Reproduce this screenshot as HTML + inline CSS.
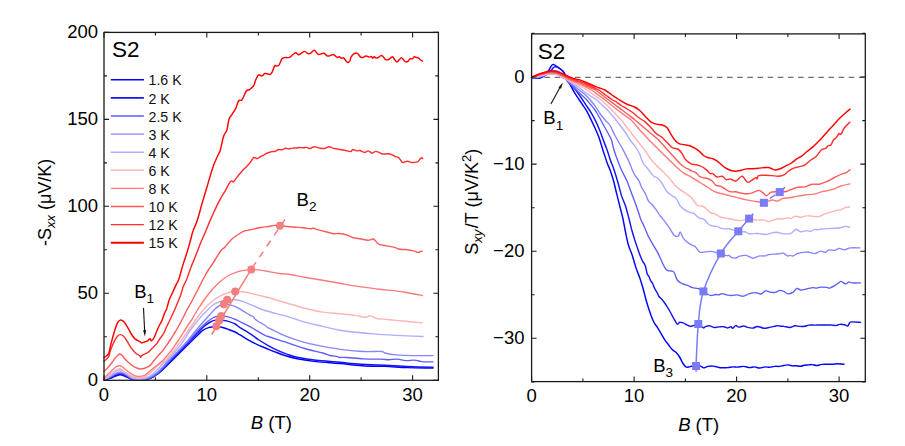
<!DOCTYPE html>
<html><head><meta charset="utf-8"><style>
html,body{margin:0;padding:0;background:#fff;width:905px;height:446px;overflow:hidden;position:relative}
</style></head><body>
<svg width="905" height="446" viewBox="0 0 905 446" style="position:absolute;left:0;top:0">
<rect width="905" height="446" fill="#fff"/>
<path d="M104.0 379.8C105.0 379.6 108.2 378.9 110.1 378.3C111.9 377.7 113.4 376.9 115.1 376.3C116.8 375.7 118.5 374.8 120.2 374.8C121.9 374.8 123.5 375.6 125.2 376.3C126.9 377.0 128.6 378.2 130.3 378.8C132.0 379.4 133.3 379.6 135.3 379.8C137.3 380.0 140.2 379.9 142.4 379.8C144.6 379.7 146.6 379.5 148.4 379.0C150.2 378.5 151.5 377.8 153.0 377.0C154.5 376.2 155.9 375.2 157.5 374.0C159.1 372.8 160.7 371.5 162.4 370.0C164.1 368.5 165.8 366.7 167.5 365.0C169.2 363.3 170.9 361.7 172.6 360.0C174.3 358.3 175.9 356.7 177.6 355.0C179.3 353.3 180.9 351.7 182.6 350.0C184.3 348.3 185.9 346.7 187.6 345.0C189.3 343.3 191.0 341.7 192.7 340.0C194.4 338.3 196.1 336.6 197.8 335.0C199.5 333.4 201.3 331.4 203.1 330.2C204.9 329.0 206.7 328.2 208.5 327.6C210.3 327.0 212.6 326.8 213.9 326.6C215.2 326.4 215.0 326.3 216.3 326.4C217.6 326.5 220.8 327.1 221.7 327.3C222.6 327.5 220.6 327.0 221.7 327.3C222.8 327.6 226.2 328.6 228.4 329.4C230.7 330.2 233.3 331.1 235.2 332.0C237.1 332.9 237.6 333.4 240.0 334.8C242.4 336.2 246.3 338.8 249.5 340.6C252.7 342.4 255.8 343.9 259.0 345.4C262.2 346.8 265.4 348.0 268.6 349.3C271.8 350.6 275.2 351.9 278.1 353.0C281.0 354.1 282.5 354.9 285.7 355.8C288.9 356.8 292.0 357.7 297.1 358.7C302.2 359.7 309.1 360.8 316.2 361.6C323.3 362.4 332.3 362.8 340.0 363.5C347.7 364.2 354.9 365.2 362.4 365.7C369.9 366.2 377.3 366.1 384.8 366.4C392.3 366.7 399.3 367.3 407.3 367.6C415.3 367.9 428.7 367.9 433.0 368.0" fill="none" stroke="#0000ff" stroke-width="1.45" stroke-linejoin="round" stroke-linecap="round"/>
<path d="M104.0 379.8C105.0 379.5 108.2 378.5 110.0 377.8C111.8 377.1 113.3 376.2 115.0 375.5C116.7 374.8 118.5 373.8 120.2 373.8C121.9 373.8 123.5 374.8 125.2 375.5C126.9 376.2 128.6 377.6 130.3 378.3C132.0 379.0 133.3 379.5 135.3 379.7C137.3 379.9 140.3 379.8 142.4 379.7C144.5 379.6 146.2 379.3 148.0 378.8C149.8 378.3 151.3 377.6 153.0 376.8C154.7 376.0 156.2 375.2 158.0 373.8C159.8 372.4 161.5 370.6 163.5 368.5C165.5 366.4 168.0 363.6 170.0 361.5C172.0 359.4 173.7 357.7 175.5 355.8C177.3 353.9 179.2 351.8 181.0 350.0C182.8 348.2 184.3 346.6 186.0 344.8C187.7 343.1 189.4 341.1 191.0 339.5C192.6 337.9 194.0 336.5 195.5 335.0C197.0 333.5 198.3 332.0 199.8 330.5C201.3 329.0 202.9 327.3 204.5 326.0C206.1 324.7 207.9 323.4 209.5 322.5C211.1 321.6 212.6 320.8 214.2 320.4C215.8 320.0 217.4 320.0 219.0 320.0C220.6 320.0 222.4 320.3 224.0 320.5C225.6 320.7 226.5 320.8 228.4 321.4C230.3 322.0 233.3 323.0 235.2 324.0C237.1 325.0 237.6 326.0 240.0 327.6C242.4 329.2 246.3 331.3 249.5 333.4C252.7 335.5 255.8 337.9 259.0 340.0C262.2 342.1 265.4 344.0 268.6 345.8C271.8 347.6 274.9 349.2 278.1 350.6C281.3 352.0 284.4 353.3 287.6 354.4C290.8 355.5 292.3 356.2 297.1 357.2C301.9 358.2 309.1 359.5 316.2 360.3C323.3 361.1 333.6 361.6 340.0 362.2C346.4 362.8 348.3 363.3 354.9 363.8C361.5 364.3 371.1 364.6 379.8 365.0C388.5 365.4 398.4 366.1 407.3 366.5C416.2 366.9 428.7 367.2 433.0 367.3" fill="none" stroke="#1414f0" stroke-width="1.45" stroke-linejoin="round" stroke-linecap="round"/>
<path d="M104.0 379.8C105.0 379.4 108.2 378.2 110.0 377.3C111.8 376.4 113.3 375.2 115.0 374.5C116.7 373.8 118.5 372.8 120.2 372.8C121.9 372.9 123.5 374.0 125.2 374.8C126.9 375.6 128.6 377.0 130.3 377.8C132.0 378.6 133.3 379.2 135.3 379.5C137.3 379.8 140.3 379.7 142.4 379.5C144.5 379.3 146.2 379.0 148.0 378.5C149.8 378.0 151.3 377.2 153.0 376.3C154.7 375.4 156.2 374.5 158.0 373.0C159.8 371.5 161.6 369.5 163.5 367.5C165.4 365.5 167.7 363.0 169.5 361.0C171.3 359.0 172.8 357.5 174.5 355.7C176.2 353.9 178.2 351.8 180.0 350.0C181.8 348.2 183.3 346.6 185.0 344.8C186.7 343.1 188.5 341.1 190.0 339.5C191.5 337.9 192.7 336.5 194.0 335.0C195.3 333.5 196.6 332.0 198.0 330.5C199.4 329.0 200.9 327.5 202.5 326.0C204.1 324.5 205.8 322.8 207.5 321.5C209.2 320.2 211.0 318.9 212.6 318.0C214.2 317.1 215.6 316.7 217.0 316.3C218.4 315.9 219.3 315.8 221.0 315.9C222.7 315.9 224.7 316.0 227.1 316.6C229.5 317.2 232.7 318.3 235.2 319.3C237.7 320.3 239.4 321.4 241.9 322.6C244.4 323.8 247.3 325.2 250.0 326.7C252.7 328.2 255.5 329.9 258.0 331.4C260.5 332.8 263.3 334.5 265.0 335.4C266.7 336.2 264.6 335.3 268.2 336.5C271.8 337.7 280.3 340.4 286.4 342.4C292.4 344.4 298.4 346.7 304.5 348.5C310.6 350.3 318.4 351.8 322.7 353.0C326.9 354.2 327.7 354.9 330.0 355.5C332.3 356.1 335.2 356.0 336.7 356.3C338.2 356.6 337.5 357.2 339.2 357.4C340.9 357.6 342.7 357.2 346.8 357.5C350.9 357.8 358.0 358.6 363.6 358.9C369.2 359.2 376.3 359.1 380.5 359.2C384.7 359.3 386.1 359.7 388.9 359.7C391.7 359.7 394.5 359.0 397.3 359.2C400.1 359.4 402.9 360.4 405.7 360.6C408.5 360.8 411.6 360.1 414.1 360.2C416.6 360.3 419.1 361.1 420.8 361.4C422.5 361.7 422.2 361.8 424.2 361.9C426.2 362.0 431.4 361.9 432.9 361.9" fill="none" stroke="#5c5cff" stroke-width="1.35" stroke-linejoin="round" stroke-linecap="round"/>
<path d="M104.0 379.7C105.0 379.2 108.2 378.0 110.0 377.0C111.8 376.0 113.3 374.7 115.0 373.8C116.7 372.9 118.5 371.8 120.2 371.8C121.9 371.8 123.5 373.1 125.2 374.0C126.9 374.9 128.6 376.4 130.3 377.3C132.0 378.2 133.3 379.0 135.3 379.3C137.3 379.6 140.3 379.5 142.4 379.3C144.5 379.1 146.2 378.6 148.0 378.0C149.8 377.4 151.3 376.5 153.0 375.5C154.7 374.5 156.2 373.4 158.0 371.8C159.8 370.2 161.7 368.0 163.5 366.0C165.3 364.0 166.9 361.8 168.7 360.0C170.4 358.2 172.3 356.7 174.0 355.0C175.7 353.3 177.4 351.7 179.0 350.0C180.6 348.3 182.2 346.7 183.8 345.0C185.4 343.3 186.9 341.7 188.3 340.0C189.7 338.3 191.0 336.7 192.3 335.0C193.6 333.3 194.9 331.7 196.3 330.0C197.7 328.3 199.1 326.7 200.5 325.0C201.9 323.3 203.4 321.8 205.0 320.0C206.6 318.2 208.3 316.3 210.0 314.5C211.7 312.7 213.5 310.4 215.0 309.0C216.5 307.6 217.6 306.6 219.0 305.8C220.4 305.0 221.7 304.3 223.7 304.2C225.7 304.1 228.8 304.6 231.1 305.2C233.4 305.8 235.6 306.7 237.8 307.8C240.1 308.9 242.6 310.7 244.6 311.9C246.6 313.1 248.6 314.4 250.0 315.2C251.4 316.0 252.4 315.9 253.3 316.6C254.2 317.3 254.5 318.5 255.3 319.3C256.1 320.1 256.4 320.3 258.0 321.3C259.6 322.3 263.3 324.2 265.0 325.3C266.7 326.4 264.6 326.0 268.2 327.8C271.8 329.6 280.3 334.0 286.4 336.4C292.4 338.8 298.4 340.7 304.5 342.4C310.6 344.1 316.8 345.2 322.7 346.4C328.6 347.5 333.4 348.4 340.0 349.3C346.6 350.2 355.5 351.1 362.4 351.5C369.3 351.9 377.8 351.2 381.5 351.5C385.2 351.8 382.4 352.4 384.8 353.0C387.2 353.6 391.3 354.5 396.0 354.9C400.7 355.3 406.7 355.5 412.9 355.6C419.1 355.7 429.6 355.6 433.0 355.6" fill="none" stroke="#8585ff" stroke-width="1.35" stroke-linejoin="round" stroke-linecap="round"/>
<path d="M104.0 379.3C104.7 379.0 106.7 378.3 108.0 377.5C109.3 376.7 110.7 375.6 112.0 374.5C113.3 373.4 114.6 372.0 116.0 371.2C117.4 370.4 118.9 369.6 120.2 369.7C121.5 369.8 122.9 370.8 124.0 371.5C125.1 372.2 126.0 373.1 127.0 374.0C128.1 374.9 129.1 375.9 130.3 376.6C131.5 377.4 132.7 378.1 134.0 378.5C135.3 378.9 136.8 379.1 138.3 379.2C139.8 379.2 141.4 379.2 143.0 378.8C144.6 378.4 146.5 377.7 148.0 377.0C149.5 376.3 150.8 375.3 152.0 374.5C153.2 373.7 154.0 372.9 155.0 372.0C156.0 371.1 156.8 370.2 158.0 369.0C159.2 367.8 160.5 366.3 162.0 364.8C163.5 363.3 165.4 361.6 167.1 360.0C168.8 358.4 170.4 356.7 172.0 355.0C173.6 353.3 175.1 351.7 176.5 350.0C177.9 348.3 179.2 346.7 180.5 345.0C181.8 343.3 183.0 341.7 184.1 340.0C185.2 338.3 186.1 336.7 187.2 335.0C188.2 333.3 189.2 331.7 190.4 330.0C191.6 328.3 192.9 326.7 194.2 325.0C195.5 323.3 196.8 321.7 198.2 320.0C199.6 318.3 200.9 316.7 202.5 315.0C204.1 313.3 205.8 311.7 207.5 310.0C209.2 308.3 211.2 306.3 213.0 305.0C214.8 303.7 216.6 302.9 218.0 302.3C219.4 301.7 220.2 301.5 221.7 301.1C223.2 300.7 224.8 300.0 227.1 299.8C229.3 299.6 232.7 299.6 235.2 299.8C237.7 300.0 239.7 300.4 241.9 301.1C244.1 301.8 246.4 302.9 248.6 303.8C250.8 304.7 252.6 305.4 255.3 306.5C258.0 307.6 259.8 308.9 265.0 310.5C270.2 312.1 279.8 314.2 286.4 316.1C293.0 318.0 298.4 320.4 304.5 322.1C310.6 323.8 316.8 325.0 322.7 326.4C328.6 327.8 334.4 329.2 340.0 330.2C345.6 331.2 350.4 331.7 356.0 332.3C361.6 332.9 366.9 333.4 373.6 333.9C380.3 334.4 387.8 335.0 396.0 335.4C404.2 335.8 418.5 336.3 423.0 336.5" fill="none" stroke="#aeaeff" stroke-width="1.40" stroke-linejoin="round" stroke-linecap="round"/>
<path d="M104.0 378.8C104.5 378.5 106.0 377.6 107.0 376.8C108.0 376.1 108.8 375.4 110.1 374.3C111.4 373.2 113.4 371.4 115.1 370.5C116.8 369.6 118.5 368.4 120.2 368.7C121.9 369.0 123.5 371.2 125.2 372.3C126.9 373.4 128.6 374.5 130.3 375.3C132.0 376.1 133.6 376.9 135.3 377.3C137.0 377.7 138.6 377.9 140.3 377.8C142.0 377.7 143.9 377.2 145.4 376.5C146.9 375.8 148.2 374.9 149.5 373.8C150.8 372.7 151.6 371.5 153.2 370.0C154.8 368.5 157.0 366.7 159.0 365.0C161.0 363.3 163.3 361.7 165.1 360.0C166.9 358.3 168.3 356.7 169.8 355.0C171.3 353.3 172.9 351.7 174.3 350.0C175.7 348.3 176.8 346.7 178.0 345.0C179.2 343.3 180.5 341.7 181.7 340.0C182.9 338.3 184.0 336.7 185.1 335.0C186.2 333.3 187.3 331.7 188.5 330.0C189.7 328.3 190.8 326.7 192.0 325.0C193.2 323.3 194.2 321.7 195.4 320.0C196.6 318.3 197.9 316.7 199.2 315.0C200.5 313.3 201.7 311.7 203.2 310.0C204.7 308.3 206.2 306.7 208.0 305.0C209.8 303.3 212.0 301.3 213.7 300.0C215.4 298.7 216.4 298.2 218.0 297.3C219.6 296.4 221.3 295.4 223.1 294.6C224.9 293.8 227.0 293.0 229.0 292.5C231.0 292.0 233.0 291.6 235.2 291.5C237.3 291.4 239.4 291.4 241.9 291.7C244.4 292.0 247.3 292.5 250.0 293.1C252.7 293.7 255.0 294.4 258.0 295.1C261.0 295.8 263.5 296.2 268.2 297.5C272.9 298.8 280.3 301.2 286.4 303.0C292.4 304.8 298.4 306.7 304.5 308.2C310.6 309.7 316.8 311.2 322.7 312.1C328.6 313.0 334.6 313.2 340.0 313.8C345.4 314.4 351.2 314.9 354.9 315.4C358.6 315.9 360.1 316.4 362.0 316.7C363.9 317.0 364.9 317.4 366.0 317.3C367.1 317.2 367.8 316.6 368.5 316.4C369.2 316.2 369.8 315.9 370.5 315.9C371.2 315.9 372.0 316.2 372.8 316.6C373.6 317.0 374.3 317.8 375.5 318.2C376.7 318.6 376.5 318.5 380.0 318.9C383.5 319.3 389.4 319.7 396.4 320.4C403.4 321.1 417.9 322.5 422.2 322.9" fill="none" stroke="#ffb4b4" stroke-width="1.40" stroke-linejoin="round" stroke-linecap="round"/>
<path d="M104.0 377.8C104.5 377.4 106.0 376.1 107.0 375.2C108.0 374.3 108.8 373.6 110.1 372.3C111.4 371.0 113.8 368.6 115.1 367.5C116.4 366.4 117.2 366.3 118.0 366.0C118.8 365.7 119.5 365.5 120.2 365.7C121.0 365.9 121.7 366.4 122.5 367.0C123.3 367.6 123.9 368.2 125.2 369.2C126.5 370.2 128.6 372.1 130.3 373.2C132.0 374.3 133.6 375.3 135.3 375.8C137.0 376.3 138.6 376.6 140.3 376.4C142.0 376.2 143.7 375.8 145.4 374.8C147.1 373.8 148.6 372.1 150.5 370.5C152.4 368.9 154.9 367.1 157.0 365.3C159.1 363.6 161.4 361.7 163.2 360.0C164.9 358.3 166.1 356.7 167.5 355.0C168.9 353.3 170.5 351.7 171.8 350.0C173.1 348.3 174.1 346.7 175.2 345.0C176.3 343.3 177.5 341.7 178.6 340.0C179.7 338.3 180.8 336.7 181.8 335.0C182.9 333.3 183.8 331.7 184.9 330.0C186.0 328.3 187.1 326.7 188.2 325.0C189.3 323.3 190.5 321.7 191.6 320.0C192.7 318.3 193.5 316.7 194.5 315.0C195.5 313.3 196.4 311.7 197.4 310.0C198.4 308.3 199.6 306.7 200.7 305.0C201.8 303.3 202.9 301.7 204.1 300.0C205.3 298.3 206.5 296.7 207.8 295.0C209.1 293.3 210.4 291.7 211.8 290.0C213.2 288.3 214.8 286.7 216.5 285.0C218.2 283.3 220.1 281.6 222.1 280.0C224.1 278.4 226.2 276.8 228.5 275.5C230.8 274.2 233.7 273.1 236.0 272.3C238.3 271.5 239.8 271.1 242.4 270.6C245.0 270.2 248.2 269.7 251.3 269.6C254.4 269.5 257.6 269.7 260.7 270.1C263.8 270.5 267.0 271.3 270.1 271.9C273.2 272.5 276.4 273.1 279.5 273.5C282.6 273.9 284.7 273.7 288.9 274.3C293.1 274.9 298.9 276.3 304.5 277.3C310.1 278.3 316.8 279.3 322.7 280.3C328.6 281.3 334.6 282.4 340.0 283.3C345.4 284.2 348.3 284.9 354.9 285.9C361.5 286.9 371.5 288.1 379.8 289.2C388.1 290.2 397.6 291.1 404.7 292.2C411.8 293.2 419.3 294.9 422.2 295.5" fill="none" stroke="#ff7a7a" stroke-width="1.40" stroke-linejoin="round" stroke-linecap="round"/>
<path d="M104.0 371.3C104.4 370.9 105.7 369.9 106.5 369.0C107.3 368.1 108.2 367.3 109.1 366.2C110.0 365.1 111.0 363.8 112.0 362.5C113.0 361.2 114.2 359.4 115.1 358.2C116.0 357.0 116.7 356.2 117.5 355.5C118.3 354.8 119.2 353.9 120.0 354.0C120.8 354.1 121.6 354.9 122.5 355.8C123.4 356.7 123.9 357.8 125.2 359.2C126.5 360.6 128.6 362.6 130.3 364.0C132.0 365.4 133.6 366.6 135.3 367.4C137.0 368.2 138.6 368.9 140.3 369.0C142.0 369.1 143.7 368.6 145.4 368.0C147.1 367.4 149.0 366.6 150.4 365.3C151.8 364.0 152.8 362.0 154.1 360.3C155.4 358.6 157.0 357.0 158.5 355.3C160.0 353.6 161.9 351.7 163.3 350.0C164.7 348.3 165.7 346.7 166.8 345.0C168.0 343.3 169.1 341.7 170.2 340.0C171.3 338.3 172.3 336.7 173.3 335.0C174.3 333.3 175.4 331.7 176.4 330.0C177.4 328.3 178.3 326.7 179.2 325.0C180.1 323.3 181.0 321.7 181.9 320.0C182.8 318.3 183.6 316.7 184.4 315.0C185.2 313.3 186.0 311.7 186.9 310.0C187.8 308.3 188.8 306.7 189.7 305.0C190.6 303.3 191.6 301.7 192.5 300.0C193.4 298.3 194.2 296.7 195.1 295.0C196.0 293.3 196.8 291.7 197.7 290.0C198.5 288.3 199.4 286.7 200.2 285.0C201.0 283.3 201.8 281.7 202.7 280.0C203.6 278.3 204.6 276.7 205.5 275.0C206.4 273.3 207.2 271.7 208.3 270.0C209.4 268.3 210.6 266.8 211.8 265.0C213.0 263.2 213.8 261.8 215.3 259.5C216.8 257.2 219.1 253.1 220.7 251.0C222.3 248.9 223.2 248.8 225.0 246.9C226.8 245.0 229.3 241.5 231.4 239.5C233.5 237.5 235.4 236.4 237.5 235.0C239.6 233.6 241.8 232.1 243.9 231.2C246.0 230.3 248.0 230.2 250.0 229.8C252.0 229.4 254.0 228.9 256.0 228.5C258.0 228.1 259.9 227.5 262.0 227.2C264.1 226.9 266.4 226.8 268.5 226.5C270.6 226.2 272.8 225.5 274.8 225.4C276.8 225.3 277.9 225.6 280.4 225.8C282.8 226.0 286.4 226.5 289.5 226.8C292.6 227.1 296.6 227.2 299.1 227.4C301.7 227.6 302.9 227.8 304.8 228.0C306.7 228.2 309.1 228.6 310.5 228.7C311.9 228.8 312.1 228.1 313.4 228.3C314.7 228.5 316.1 229.3 318.1 229.9C320.2 230.5 323.1 231.2 325.7 231.8C328.2 232.4 331.2 233.4 333.4 233.7C335.6 234.0 336.9 233.3 339.1 233.5C341.3 233.7 344.5 234.3 346.7 235.0C348.9 235.7 350.2 236.9 352.4 237.5C354.6 238.1 357.4 238.4 360.0 238.8C362.6 239.2 365.9 240.1 367.7 240.2C369.5 240.3 370.1 239.8 371.0 239.6C371.9 239.4 372.6 238.7 373.4 239.0C374.2 239.3 375.1 240.6 376.0 241.5C376.9 242.4 377.3 243.6 379.1 244.3C380.9 245.0 384.1 245.4 386.7 245.9C389.2 246.4 392.2 246.8 394.4 247.4C396.6 248.0 397.9 248.9 400.1 249.3C402.3 249.7 405.5 249.4 407.7 249.7C409.9 249.9 411.6 250.3 413.4 250.8C415.1 251.3 417.1 252.4 418.2 252.5C419.3 252.6 419.3 251.7 420.0 251.5C420.7 251.3 421.8 251.2 422.2 251.2" fill="none" stroke="#ff5a5a" stroke-width="1.40" stroke-linejoin="round" stroke-linecap="round"/>
<path d="M104.0 361.1C104.5 360.8 105.9 359.9 106.7 359.1C107.5 358.3 108.2 357.6 108.8 356.4C109.4 355.2 109.5 353.4 110.1 351.7C110.6 350.0 111.3 348.2 112.1 346.3C112.9 344.4 113.9 342.0 114.8 340.3C115.7 338.6 116.6 337.1 117.5 336.2C118.4 335.2 119.2 334.6 120.2 334.6C121.2 334.6 122.5 335.1 123.6 336.2C124.7 337.2 125.7 339.0 126.9 340.9C128.1 342.8 129.7 345.8 131.0 347.7C132.3 349.6 133.8 351.2 135.0 352.4C136.2 353.6 137.7 354.5 138.5 355.0C139.3 355.5 139.4 355.2 139.8 355.6C140.2 356.0 140.4 357.4 140.7 357.4C141.0 357.4 141.3 356.1 141.6 355.7C141.9 355.3 142.0 355.5 142.5 355.2C143.0 354.9 143.4 354.6 144.4 354.1C145.4 353.6 147.1 353.1 148.4 352.1C149.7 351.1 151.1 349.5 152.4 348.1C153.8 346.8 155.2 345.6 156.5 344.0C157.8 342.4 158.8 340.2 160.0 338.5C161.2 336.8 162.5 335.4 163.6 333.5C164.7 331.6 165.4 329.2 166.5 327.0C167.6 324.8 168.7 322.4 169.9 320.0C171.1 317.6 172.3 314.9 173.5 312.3C174.7 309.7 175.8 307.1 177.0 304.2C178.2 301.3 179.5 298.2 180.6 295.2C181.7 292.2 182.3 288.8 183.3 286.3C184.3 283.8 185.1 283.2 186.4 280.0C187.7 276.8 189.4 271.4 191.1 267.0C192.8 262.6 194.8 257.9 196.5 253.6C198.2 249.3 199.6 245.3 201.2 241.5C202.8 237.7 204.4 234.4 205.9 230.8C207.4 227.2 208.8 223.6 210.3 220.1C211.8 216.6 213.2 213.6 214.8 210.1C216.4 206.6 218.3 202.6 220.1 199.3C221.9 196.0 223.8 193.2 225.5 190.3C227.2 187.5 228.9 183.8 230.0 182.2C231.1 180.6 231.2 181.1 231.8 181.0C232.4 180.9 232.6 182.5 233.6 181.7C234.6 180.8 236.4 177.9 238.1 175.9C239.8 173.9 241.8 171.4 243.5 169.6C245.2 167.8 246.9 166.2 248.0 165.1C249.1 164.0 249.4 163.6 250.0 162.8C250.6 162.0 250.9 161.4 251.5 160.5C252.1 159.6 252.8 158.0 253.5 157.6C254.2 157.2 254.7 157.9 255.4 158.0C256.1 158.1 256.8 158.7 257.7 158.4C258.6 158.2 259.8 157.0 260.8 156.5C261.8 156.0 262.6 155.8 263.5 155.3C264.4 154.8 265.0 154.1 265.9 153.6C266.8 153.1 267.6 152.9 268.6 152.6C269.6 152.3 270.6 151.8 271.7 151.6C272.8 151.4 274.4 151.5 275.5 151.2C276.6 150.8 277.6 149.7 278.6 149.5C279.6 149.3 280.5 150.0 281.7 149.8C282.9 149.6 284.4 148.5 285.6 148.3C286.8 148.2 287.6 148.9 288.7 148.9C289.8 148.9 291.2 148.2 292.5 148.1C293.8 147.9 295.2 148.1 296.4 148.0C297.6 147.9 298.3 147.5 299.5 147.5C300.7 147.5 302.2 147.8 303.4 147.8C304.6 147.8 305.5 147.3 306.5 147.4C307.5 147.5 308.6 148.5 309.6 148.5C310.6 148.5 311.7 147.5 312.6 147.2C313.5 146.9 314.2 146.7 315.0 146.7C315.8 146.7 316.5 147.2 317.3 147.4C318.1 147.6 318.4 147.9 319.6 148.1C320.8 148.3 322.8 148.7 324.3 148.5C325.9 148.3 327.5 146.9 328.9 146.8C330.3 146.7 331.2 147.7 332.8 148.1C334.4 148.5 336.3 148.8 338.2 149.2C340.1 149.6 342.3 149.9 344.4 150.3C346.5 150.7 349.2 151.7 350.6 151.6C352.0 151.5 351.9 149.6 352.9 149.5C353.9 149.4 355.6 150.7 356.8 150.9C358.0 151.1 358.6 150.2 359.9 150.5C361.2 150.8 363.1 152.3 364.5 152.4C365.9 152.5 367.1 150.8 368.4 150.9C369.7 151.0 371.0 153.1 372.2 153.2C373.4 153.3 374.5 151.5 375.7 151.4C376.9 151.3 378.1 152.0 379.2 152.4C380.3 152.8 381.0 153.8 382.4 154.0C383.8 154.2 386.2 153.7 387.8 153.8C389.4 153.9 390.6 154.2 391.8 154.7C393.0 155.1 394.1 156.1 395.2 156.5C396.3 156.9 397.4 156.9 398.2 157.4C399.0 157.9 399.5 158.7 400.2 159.5C400.9 160.3 401.4 162.2 402.6 162.5C403.8 162.8 405.7 161.2 407.3 161.2C408.9 161.2 410.3 162.4 412.0 162.5C413.7 162.6 416.2 162.3 417.4 161.9C418.6 161.5 418.7 160.5 419.4 159.8C420.1 159.1 420.8 158.0 421.4 157.8C421.9 157.6 422.5 158.4 422.7 158.5" fill="none" stroke="#ff2e2e" stroke-width="1.45" stroke-linejoin="round" stroke-linecap="round"/>
<path d="M104.0 357.5C104.5 357.2 105.9 356.4 106.7 355.7C107.5 355.0 108.2 354.4 108.8 353.1C109.4 351.8 109.5 349.9 110.1 347.7C110.6 345.4 111.3 342.5 112.1 339.6C112.9 336.7 113.9 333.0 114.8 330.2C115.7 327.4 116.6 324.5 117.5 322.8C118.4 321.1 119.2 320.3 120.2 320.1C121.2 319.9 122.5 320.4 123.6 321.4C124.7 322.4 125.7 324.1 126.9 326.1C128.1 328.1 129.7 331.4 131.0 333.5C132.3 335.6 133.5 337.5 135.0 338.9C136.5 340.2 138.9 340.9 140.0 341.6C141.1 342.3 140.7 342.8 141.4 342.9C142.2 343.0 143.5 342.3 144.5 342.0C145.5 341.7 146.6 341.4 147.5 340.9C148.4 340.4 149.5 338.8 150.2 338.8C150.9 338.8 150.8 341.1 151.5 340.9C152.2 340.7 153.3 339.2 154.2 337.5C155.1 335.8 156.0 332.9 156.9 330.8C157.8 328.7 158.6 326.8 159.5 325.0C160.4 323.2 161.4 322.0 162.2 320.0C163.0 318.0 163.8 315.1 164.5 313.2C165.2 311.3 165.9 310.8 166.7 308.7C167.4 306.6 168.2 303.0 169.0 300.6C169.8 298.2 170.7 296.5 171.7 294.3C172.7 292.1 174.0 289.4 174.8 287.6C175.6 285.8 176.0 284.9 176.6 283.6C177.2 282.3 177.5 283.2 178.6 280.0C179.7 276.8 181.7 269.0 183.1 264.4C184.5 259.8 185.9 256.3 187.1 252.3C188.3 248.3 189.5 243.8 190.5 240.2C191.5 236.6 191.9 234.2 193.1 230.8C194.2 227.4 195.9 224.7 197.4 220.0C198.9 215.3 200.5 208.8 202.2 202.9C203.9 197.1 205.8 190.9 207.6 184.9C209.4 178.9 211.3 171.7 213.0 166.9C214.7 162.1 216.3 158.9 217.5 156.2C218.7 153.5 219.2 153.8 220.2 150.5C221.2 147.2 222.5 139.7 223.6 136.3C224.7 132.9 226.0 132.9 226.9 130.1C227.8 127.2 228.1 121.9 229.0 119.2C229.9 116.5 231.3 115.6 232.4 113.8C233.5 112.0 234.8 110.5 235.8 108.4C236.8 106.3 237.5 102.4 238.5 101.0C239.5 99.6 240.9 100.9 241.8 100.1C242.7 99.3 243.0 97.9 243.8 96.3C244.6 94.7 245.6 91.8 246.5 90.7C247.4 89.6 248.3 90.4 249.2 89.9C250.1 89.4 251.1 88.4 251.9 87.6C252.7 86.8 253.2 86.6 253.9 85.3C254.6 84.0 255.1 81.2 255.9 79.5C256.7 77.8 257.6 75.4 258.6 74.8C259.6 74.2 261.0 76.1 262.0 75.9C263.0 75.7 263.7 73.8 264.7 73.5C265.7 73.2 267.2 73.8 268.1 74.0C269.0 74.2 269.4 74.8 270.1 74.5C270.8 74.2 271.3 73.6 272.1 72.1C272.9 70.6 274.0 66.7 274.8 65.7C275.6 64.7 276.1 66.1 276.8 66.1C277.5 66.0 278.2 66.1 278.8 65.4C279.4 64.7 279.9 63.1 280.5 62.0C281.1 60.9 281.4 59.2 282.1 58.5C282.8 57.8 283.6 57.8 284.8 57.6C286.0 57.4 288.1 57.9 289.5 57.4C290.9 56.9 291.8 55.3 292.9 54.5C294.0 53.7 294.9 52.8 295.9 52.8C296.9 52.8 297.5 54.9 298.9 54.7C300.3 54.5 302.7 51.5 304.3 51.4C305.9 51.2 307.2 53.6 308.3 53.8C309.4 54.0 310.0 53.4 311.0 52.8C312.0 52.2 313.2 49.9 314.4 50.2C315.6 50.5 316.8 54.0 318.4 54.5C320.0 55.0 322.2 52.9 323.8 53.2C325.4 53.5 326.2 55.9 327.8 56.1C329.4 56.3 331.6 54.3 333.1 54.5C334.7 54.7 336.1 57.0 337.1 57.4C338.1 57.8 338.3 56.7 339.1 56.8C339.9 56.9 341.0 58.0 341.8 58.2C342.6 58.4 343.1 57.4 343.8 57.8C344.5 58.2 345.1 60.0 345.8 60.8C346.5 61.6 347.2 62.5 347.9 62.5C348.6 62.5 349.3 61.8 349.9 60.8C350.4 59.8 350.5 58.0 351.2 56.8C351.9 55.6 352.9 54.4 353.9 53.8C354.9 53.2 356.2 52.8 357.3 53.3C358.4 53.8 359.7 56.4 360.6 57.1C361.5 57.8 361.8 57.7 362.7 57.5C363.6 57.3 364.9 56.1 366.0 56.0C367.1 55.9 368.5 57.0 369.4 57.1C370.3 57.2 370.8 56.3 371.4 56.5C371.9 56.7 372.2 58.2 372.7 58.2C373.1 58.2 373.5 56.8 374.1 56.8C374.7 56.8 375.4 57.9 376.1 58.0C376.8 58.1 377.3 58.0 378.1 57.6C378.9 57.2 380.0 55.8 380.8 55.6C381.6 55.4 382.2 55.8 382.8 56.3C383.4 56.8 383.9 57.9 384.5 58.5C385.1 59.1 385.4 59.6 386.1 59.8C386.8 60.0 387.9 59.8 388.7 59.5C389.5 59.2 390.1 58.2 390.8 57.8C391.5 57.3 392.2 56.5 392.8 56.8C393.4 57.1 393.8 58.6 394.5 59.5C395.2 60.4 396.0 61.9 396.8 61.9C397.6 61.9 398.7 60.2 399.5 59.5C400.3 58.8 400.8 57.6 401.5 57.6C402.2 57.6 402.8 59.1 403.5 59.8C404.2 60.5 405.1 61.7 405.9 61.9C406.7 62.1 407.5 61.7 408.2 61.2C408.9 60.7 409.2 59.2 409.9 58.8C410.6 58.4 411.6 59.1 412.3 58.8C413.0 58.5 413.6 57.0 414.3 56.8C415.0 56.6 415.6 57.2 416.3 57.4C417.0 57.6 418.0 57.8 418.7 58.2C419.4 58.6 419.7 59.3 420.3 59.8C420.9 60.3 422.0 61.0 422.4 61.2" fill="none" stroke="#ff0000" stroke-width="1.45" stroke-linejoin="round" stroke-linecap="round"/>
<path d="M211.7 334.5L251.3 269.2" stroke="#f37e7e" stroke-width="1.5" fill="none"/>
<path d="M251.3 269.2L285.0 219.4" stroke="#f37e7e" stroke-width="1.5" fill="none" stroke-dasharray="6.7 6.4" stroke-dashoffset="-1.5"/>
<circle cx="216.3" cy="326.2" r="4.0" fill="#f37e7e"/>
<circle cx="219.2" cy="320.4" r="4.0" fill="#f37e7e"/>
<circle cx="221.2" cy="316.0" r="4.0" fill="#f37e7e"/>
<circle cx="223.8" cy="304.3" r="4.0" fill="#f37e7e"/>
<circle cx="227.2" cy="299.8" r="4.0" fill="#f37e7e"/>
<circle cx="235.2" cy="291.6" r="4.0" fill="#f37e7e"/>
<circle cx="251.3" cy="269.4" r="4.0" fill="#f37e7e"/>
<circle cx="279.9" cy="225.7" r="4.0" fill="#f37e7e"/>
<rect x="104.0" y="32.4" width="334.4" height="347.9" fill="none" stroke="#1a1a1a" stroke-width="1.3"/>
<path d="M104.0 380.3v-5M104.0 32.4v5M206.8 380.3v-5M206.8 32.4v5M309.7 380.3v-5M309.7 32.4v5M412.6 380.3v-5M412.6 32.4v5M155.4 380.3v-3M155.4 32.4v3M258.3 380.3v-3M258.3 32.4v3M361.1 380.3v-3M361.1 32.4v3M104.0 380.3h5M438.4 380.3h-5M104.0 293.3h5M438.4 293.3h-5M104.0 206.3h5M438.4 206.3h-5M104.0 119.4h5M438.4 119.4h-5M104.0 32.4h5M438.4 32.4h-5M104.0 336.8h3M438.4 336.8h-3M104.0 249.8h3M438.4 249.8h-3M104.0 162.9h3M438.4 162.9h-3M104.0 75.9h3M438.4 75.9h-3" stroke="#1a1a1a" stroke-width="1.1" fill="none"/>
<path d="M110.8 79.75H143.9" stroke="#0000ff" stroke-width="1.60"/>
<text x="148.5" y="85.3" font-size="14.2" font-family='"Liberation Sans", sans-serif' fill="#111">1.6 K</text>
<path d="M110.8 97.86H143.9" stroke="#1414f0" stroke-width="1.60"/>
<text x="148.5" y="103.5" font-size="14.2" font-family='"Liberation Sans", sans-serif' fill="#111">2 K</text>
<path d="M110.8 115.97H143.9" stroke="#5c5cff" stroke-width="1.35"/>
<text x="148.5" y="121.6" font-size="14.2" font-family='"Liberation Sans", sans-serif' fill="#111">2.5 K</text>
<path d="M110.8 134.08H143.9" stroke="#8585ff" stroke-width="1.35"/>
<text x="148.5" y="139.7" font-size="14.2" font-family='"Liberation Sans", sans-serif' fill="#111">3 K</text>
<path d="M110.8 152.19H143.9" stroke="#aeaeff" stroke-width="1.40"/>
<text x="148.5" y="157.8" font-size="14.2" font-family='"Liberation Sans", sans-serif' fill="#111">4 K</text>
<path d="M110.8 170.30H143.9" stroke="#ffb4b4" stroke-width="1.40"/>
<text x="148.5" y="175.9" font-size="14.2" font-family='"Liberation Sans", sans-serif' fill="#111">6 K</text>
<path d="M110.8 188.41H143.9" stroke="#ff7a7a" stroke-width="1.40"/>
<text x="148.5" y="194.0" font-size="14.2" font-family='"Liberation Sans", sans-serif' fill="#111">8 K</text>
<path d="M110.8 206.52H143.9" stroke="#ff5a5a" stroke-width="1.40"/>
<text x="148.5" y="212.1" font-size="14.2" font-family='"Liberation Sans", sans-serif' fill="#111">10 K</text>
<path d="M110.8 224.63H143.9" stroke="#ff2e2e" stroke-width="1.45"/>
<text x="148.5" y="230.2" font-size="14.2" font-family='"Liberation Sans", sans-serif' fill="#111">12 K</text>
<path d="M110.8 242.74H143.9" stroke="#ff0000" stroke-width="1.80"/>
<text x="148.5" y="248.3" font-size="14.2" font-family='"Liberation Sans", sans-serif' fill="#111">15 K</text>
<path d="M534.4 77.4H865" stroke="#707070" stroke-width="1.3" stroke-dasharray="5.6 4.54"/>
<path d="M531.6 77.8C532.3 77.8 534.6 78.0 536.0 78.0C537.4 78.0 538.7 78.2 539.7 78.0C540.7 77.8 541.2 77.4 542.0 77.0C542.8 76.6 543.6 76.2 544.4 75.5C545.1 74.8 545.8 73.8 546.5 73.0C547.2 72.2 548.0 71.6 548.8 70.4C549.6 69.2 550.5 67.1 551.2 66.1C551.9 65.1 552.5 64.5 553.2 64.4C553.9 64.3 554.4 64.9 555.2 65.4C556.0 65.9 557.0 66.8 557.9 67.4C558.8 68.0 559.7 68.4 560.6 69.1C561.5 69.8 562.5 70.5 563.3 71.4C564.1 72.4 564.8 73.8 565.3 74.8C565.8 75.8 565.6 75.7 566.5 77.5C567.4 79.3 569.2 82.8 570.8 85.8C572.4 88.8 574.3 92.3 576.1 95.2C577.9 98.1 579.7 100.5 581.5 103.2C583.3 105.9 585.3 108.6 586.9 111.3C588.5 114.0 589.6 116.8 590.9 119.4C592.2 122.0 593.1 124.0 594.5 127.0C595.9 130.0 597.5 133.4 599.0 137.6C600.5 141.8 602.1 147.7 603.5 151.9C604.9 156.1 606.0 159.7 607.1 162.7C608.2 165.7 609.0 167.0 610.1 170.0C611.2 173.0 612.4 176.8 613.5 180.8C614.6 184.8 615.7 189.7 616.8 194.2C617.9 198.7 619.2 203.6 620.2 207.7C621.2 211.8 622.1 214.7 623.0 219.0C623.9 223.3 624.9 229.2 625.8 233.5C626.7 237.8 627.4 241.5 628.4 245.0C629.4 248.5 630.8 250.9 632.0 254.5C633.2 258.1 634.3 262.6 635.6 266.6C636.9 270.6 638.7 274.8 640.0 278.5C641.3 282.2 642.2 285.6 643.2 289.0C644.2 292.4 644.8 295.3 645.8 299.0C646.8 302.7 648.2 307.2 649.5 311.0C650.8 314.8 652.2 318.8 653.5 321.5C654.8 324.2 656.1 325.4 657.4 327.4C658.7 329.4 659.9 331.5 661.1 333.6C662.3 335.7 663.6 338.0 664.8 339.8C666.0 341.6 667.3 343.1 668.5 344.7C669.7 346.3 671.0 348.3 672.2 349.6C673.4 350.9 674.7 351.1 675.9 352.3C677.1 353.5 678.5 355.2 679.6 357.0C680.7 358.8 681.7 361.4 682.7 363.0C683.7 364.6 684.7 366.2 685.8 366.9C686.9 367.5 688.4 367.0 689.5 366.9C690.6 366.8 691.5 366.0 692.6 366.0C693.7 366.0 694.8 366.8 696.0 366.8C697.2 366.8 698.6 365.7 699.9 365.9C701.2 366.1 702.6 367.8 703.9 367.9C705.2 368.0 706.4 366.7 707.9 366.4C709.4 366.1 711.4 366.0 712.9 366.1C714.4 366.2 715.3 366.6 716.8 366.9C718.3 367.2 720.0 367.7 721.8 367.8C723.6 367.9 726.0 367.8 727.8 367.6C729.6 367.5 731.1 367.0 732.7 366.9C734.4 366.8 735.9 367.2 737.7 367.1C739.5 367.0 741.7 366.3 743.7 366.4C745.7 366.5 747.8 367.5 749.6 367.6C751.4 367.7 752.9 366.8 754.6 366.9C756.3 367.0 757.8 368.0 759.6 368.0C761.4 368.0 763.9 367.0 765.5 366.9C767.1 366.8 768.0 367.4 769.5 367.3C771.0 367.2 772.9 366.5 774.5 366.4C776.1 366.2 777.9 366.5 779.4 366.4C780.9 366.2 782.3 365.8 783.8 365.5C785.3 365.2 786.8 364.8 788.3 364.9C789.8 365.0 791.4 365.8 792.7 365.9C794.0 366.0 794.9 365.6 796.2 365.7C797.5 365.8 799.3 366.4 800.6 366.3C801.9 366.2 802.9 365.4 804.2 365.2C805.5 365.0 807.3 365.0 808.6 364.9C809.9 364.8 810.8 364.5 812.1 364.6C813.4 364.7 815.0 365.5 816.6 365.5C818.2 365.5 820.0 364.6 821.9 364.4C823.8 364.2 826.1 364.3 828.0 364.3C829.9 364.3 832.1 364.4 833.4 364.3C834.7 364.2 834.2 363.8 836.0 363.8C837.8 363.8 842.7 364.2 844.0 364.3" fill="none" stroke="#0000ff" stroke-width="1.45" stroke-linejoin="round" stroke-linecap="round"/>
<path d="M531.6 77.8C533.0 77.8 537.6 78.3 539.7 78.0C541.8 77.7 542.9 76.8 544.4 75.8C545.9 74.8 547.7 72.7 548.8 71.8C549.9 70.9 550.5 71.1 551.2 70.4C551.9 69.7 552.7 68.4 553.2 67.8C553.8 67.2 554.0 67.1 554.5 66.9C555.0 66.7 555.7 66.6 556.5 66.8C557.3 67.0 558.3 67.5 559.2 68.1C560.1 68.7 561.1 69.5 562.0 70.5C562.9 71.5 563.7 72.3 564.5 74.0C565.3 75.7 565.1 78.0 566.7 80.4C568.3 82.8 572.0 85.7 574.3 88.4C576.6 91.1 578.4 93.8 580.3 96.5C582.2 99.2 583.9 101.9 585.7 104.6C587.5 107.3 589.4 109.8 591.1 112.6C592.8 115.4 594.5 118.7 595.8 121.4C597.1 124.1 598.1 126.4 599.1 128.8C600.1 131.2 600.4 132.2 601.7 135.8C603.0 139.4 605.6 145.9 607.1 150.1C608.6 154.3 609.5 157.6 610.7 160.9C611.9 164.2 612.9 166.2 614.1 170.0C615.4 173.8 617.0 179.2 618.2 183.5C619.4 187.8 620.3 191.8 621.5 195.6C622.7 199.4 624.3 202.2 625.6 206.3C626.9 210.4 628.2 215.9 629.3 220.0C630.4 224.1 631.1 227.5 632.0 230.8C632.9 234.1 633.7 236.4 634.7 239.7C635.8 243.0 637.1 247.1 638.3 250.5C639.5 253.9 641.0 257.8 642.0 260.0C643.0 262.2 643.9 262.8 644.5 264.0C645.1 265.2 645.3 265.8 645.8 267.5C646.2 269.2 646.7 272.5 647.2 274.0C647.7 275.5 648.5 275.5 649.0 276.5C649.5 277.5 649.7 278.8 650.3 280.0C650.9 281.2 651.9 282.2 652.6 283.5C653.3 284.8 653.6 286.5 654.4 288.0C655.1 289.5 656.3 291.1 657.1 292.5C657.9 293.9 658.2 295.3 659.0 296.5C659.8 297.7 660.8 298.1 662.0 299.5C663.2 300.9 664.7 303.0 666.0 305.0C667.3 307.0 668.8 309.3 670.0 311.5C671.2 313.7 672.5 316.2 673.5 318.0C674.5 319.8 675.2 321.2 675.9 322.3C676.6 323.4 677.2 324.3 677.8 324.3C678.4 324.3 679.0 322.5 679.6 322.2C680.2 321.9 680.9 322.4 681.5 322.5C682.1 322.6 682.4 322.4 683.3 322.8C684.2 323.2 685.8 324.4 687.0 325.0C688.2 325.6 689.5 326.3 690.7 326.4C691.9 326.4 693.2 325.3 694.4 325.3C695.6 325.3 697.1 326.2 698.0 326.5C698.9 326.8 699.3 327.2 700.0 327.3C700.7 327.4 701.4 326.8 702.0 326.9C702.6 327.0 703.2 328.0 703.9 327.9C704.5 327.8 704.9 326.7 705.9 326.4C706.9 326.1 708.6 325.7 709.9 325.9C711.2 326.1 712.4 327.2 713.9 327.4C715.4 327.6 717.2 327.0 718.9 326.9C720.5 326.8 722.3 326.5 723.8 326.7C725.3 326.9 726.6 327.9 727.8 327.9C729.0 327.9 730.0 326.6 730.8 326.7C731.6 326.8 732.0 328.4 732.8 328.2C733.6 328.0 734.8 325.8 735.8 325.6C736.8 325.4 737.4 327.1 738.7 327.1C740.0 327.2 742.4 325.9 743.7 325.9C745.0 325.9 745.2 326.7 746.7 327.1C748.2 327.5 750.9 328.2 752.7 328.1C754.5 328.0 755.8 326.4 757.6 326.4C759.4 326.4 761.6 328.0 763.6 328.2C765.6 328.4 767.8 327.7 769.6 327.4C771.4 327.1 773.2 326.7 774.5 326.4C775.8 326.1 776.3 325.6 777.5 325.6C778.7 325.6 780.4 326.2 781.5 326.3C782.6 326.4 782.6 326.2 784.0 326.4C785.4 326.6 788.1 327.6 789.9 327.5C791.7 327.4 793.2 326.0 794.9 325.8C796.6 325.6 798.2 326.3 799.9 326.4C801.6 326.5 803.4 326.5 804.9 326.3C806.4 326.1 807.1 325.3 808.8 325.1C810.4 324.9 812.6 325.1 814.8 325.1C816.9 325.1 819.6 324.9 821.7 324.9C823.9 324.9 826.0 324.9 827.7 324.9C829.4 324.9 830.2 325.0 831.7 325.1C833.2 325.2 835.4 325.5 836.7 325.4C838.0 325.3 838.3 324.5 839.6 324.4C840.9 324.3 843.3 324.4 844.6 324.7C845.9 325.0 846.8 326.3 847.6 326.0C848.4 325.7 848.9 323.6 849.6 322.9C850.3 322.2 849.8 322.0 851.6 321.9C853.4 321.8 859.0 322.3 860.5 322.4" fill="none" stroke="#1414f0" stroke-width="1.45" stroke-linejoin="round" stroke-linecap="round"/>
<path d="M531.6 77.6C532.3 77.6 534.6 77.8 536.0 77.7C537.4 77.6 538.5 77.6 540.0 77.2C541.5 76.8 543.5 75.9 545.0 75.2C546.5 74.5 547.8 73.5 549.0 72.8C550.2 72.1 551.0 71.6 552.0 71.2C553.0 70.8 554.0 70.6 555.0 70.6C556.0 70.6 557.0 70.9 558.0 71.4C559.0 71.9 560.0 72.6 561.0 73.4C562.0 74.2 563.1 75.4 564.0 76.5C564.9 77.6 565.8 78.9 566.5 79.8C567.2 80.7 566.7 80.3 568.1 81.7C569.5 83.1 572.7 86.4 574.8 88.4C576.9 90.5 578.5 92.1 580.5 94.0C582.5 95.9 585.1 98.2 586.9 100.0C588.6 101.8 589.6 103.3 591.0 105.0C592.4 106.7 593.8 108.3 595.0 110.0C596.2 111.7 597.0 113.3 598.0 115.0C599.0 116.7 599.9 118.3 600.8 120.0C601.7 121.7 602.6 123.3 603.5 125.0C604.4 126.7 605.4 128.3 606.3 130.0C607.2 131.7 608.1 133.3 609.0 135.0C609.9 136.7 610.7 137.5 611.5 140.0C612.3 142.5 613.0 146.7 614.0 150.0C615.0 153.3 616.2 156.7 617.5 160.0C618.8 163.3 619.9 166.5 621.5 170.0C623.1 173.5 625.3 177.2 626.9 180.8C628.5 184.4 629.5 187.9 630.9 191.5C632.2 195.1 633.8 198.9 635.0 202.3C636.2 205.7 637.3 208.8 638.3 211.7C639.3 214.6 640.1 217.7 641.0 220.0C641.9 222.3 642.5 222.7 643.7 225.4C644.9 228.1 647.2 233.8 648.2 236.1C649.2 238.4 649.0 237.6 650.0 239.3C651.0 241.0 652.6 244.0 654.0 246.3C655.4 248.7 657.0 251.3 658.1 253.4C659.2 255.5 659.8 257.1 660.7 259.0C661.6 260.9 662.5 263.2 663.4 265.0C664.3 266.8 665.2 268.5 666.1 269.5C667.0 270.5 668.0 270.6 668.8 270.8C669.6 271.1 670.1 270.7 671.0 271.0C671.9 271.3 673.2 271.0 674.2 272.5C675.2 274.0 675.9 278.1 677.2 280.0C678.6 281.9 680.4 282.7 682.3 283.6C684.1 284.6 686.6 285.0 688.3 285.7C690.0 286.4 690.7 287.2 692.4 287.7C694.1 288.2 696.5 288.0 698.4 288.7C700.3 289.4 702.4 290.8 704.0 291.8C705.6 292.8 706.8 293.9 708.0 294.5C709.2 295.1 710.2 295.5 711.5 295.5C712.8 295.5 714.7 294.6 715.9 294.5C717.1 294.4 717.6 295.0 718.6 294.9C719.6 294.8 720.8 293.6 722.1 293.6C723.4 293.6 724.9 294.6 726.5 294.9C728.1 295.2 730.0 295.5 731.8 295.5C733.6 295.5 735.3 294.8 737.1 294.9C738.9 295.0 740.9 296.1 742.4 296.2C743.9 296.2 744.8 295.6 746.0 295.2C747.2 294.8 747.9 294.0 749.5 293.6C751.1 293.2 753.8 292.6 755.7 292.7C757.6 292.8 759.4 294.3 761.0 294.0C762.6 293.7 763.8 291.2 765.4 290.9C767.0 290.6 769.1 291.9 770.7 292.2C772.3 292.4 773.7 292.7 775.2 292.4C776.8 292.1 778.5 290.6 780.0 290.4C781.5 290.2 782.6 290.8 783.9 291.4C785.2 292.0 786.4 293.7 787.9 293.9C789.4 294.1 791.4 293.3 792.9 292.4C794.4 291.5 795.6 288.8 796.9 288.4C798.2 288.0 799.1 290.0 800.8 290.1C802.4 290.2 804.8 289.3 806.8 288.9C808.8 288.5 811.1 287.7 812.8 287.6C814.4 287.5 815.4 288.2 816.7 288.1C818.0 288.0 819.0 287.2 820.7 287.1C822.4 287.0 825.2 287.2 826.7 287.4C828.2 287.6 828.4 288.4 829.7 288.1C831.0 287.8 833.1 286.6 834.6 285.7C836.1 284.8 837.5 283.6 838.6 282.9C839.7 282.2 839.9 281.2 841.1 281.4C842.3 281.6 844.3 283.8 845.6 283.9C846.9 284.0 848.0 282.1 849.1 281.9C850.2 281.7 850.1 282.7 852.0 282.9C853.9 283.1 859.1 282.9 860.5 282.9" fill="none" stroke="#5c5cff" stroke-width="1.35" stroke-linejoin="round" stroke-linecap="round"/>
<path d="M531.6 77.5C532.3 77.5 534.6 77.6 536.0 77.5C537.4 77.4 538.5 77.2 540.0 76.8C541.5 76.4 543.5 75.7 545.0 75.3C546.5 74.9 547.8 74.5 549.0 74.2C550.2 74.0 550.8 73.8 552.0 73.8C553.2 73.8 554.7 73.9 556.0 74.3C557.3 74.7 558.7 75.2 560.0 75.9C561.3 76.6 562.8 77.7 564.0 78.4C565.2 79.1 565.6 79.0 567.0 80.0C568.4 81.0 570.1 82.8 572.1 84.4C574.1 86.0 576.8 88.2 578.8 89.8C580.8 91.4 582.4 92.2 584.2 93.8C586.0 95.4 587.8 97.2 589.6 99.2C591.4 101.2 593.2 103.4 595.0 105.9C596.8 108.4 598.5 111.5 600.3 114.0C602.1 116.5 604.1 118.9 605.7 120.7C607.3 122.5 608.2 122.5 609.8 125.0C611.4 127.5 613.0 131.9 615.1 135.8C617.2 139.7 620.0 144.2 622.3 148.4C624.5 152.6 626.9 157.3 628.6 160.9C630.3 164.5 631.2 167.6 632.3 170.0C633.4 172.4 633.9 173.6 635.0 175.4C636.1 177.2 637.9 178.8 639.0 180.8C640.1 182.8 640.6 185.3 641.7 187.5C642.8 189.7 644.6 192.0 645.7 194.2C646.8 196.4 647.3 199.1 648.4 200.9C649.5 202.7 651.1 203.4 652.5 205.0C653.9 206.6 655.2 208.6 656.5 210.4C657.8 212.2 659.1 214.4 660.0 215.7C660.9 217.0 660.7 216.4 662.1 218.1C663.5 219.8 666.2 223.2 668.2 226.1C670.2 228.9 672.5 233.5 674.2 235.2C675.9 236.9 677.2 236.7 678.2 236.2C679.2 235.7 679.4 231.9 680.3 232.2C681.1 232.5 682.1 236.5 683.3 238.2C684.5 239.9 685.8 241.1 687.3 242.3C688.8 243.5 691.1 244.6 692.4 245.3C693.7 246.0 694.2 245.8 695.0 246.4C695.8 247.0 696.2 247.9 697.0 248.9C697.8 249.9 698.7 251.8 700.0 252.3C701.3 252.8 703.1 252.1 704.9 251.9C706.7 251.8 708.9 251.3 710.9 251.4C712.9 251.5 715.2 252.3 716.9 252.7C718.5 253.1 719.1 253.1 720.8 253.6C722.4 254.1 725.5 255.4 726.8 255.7C728.1 256.0 728.0 255.1 728.8 255.4C729.6 255.7 730.6 257.3 731.8 257.7C733.0 258.1 734.5 258.3 735.8 258.0C737.1 257.7 738.1 256.5 739.7 256.1C741.4 255.7 744.0 255.3 745.7 255.4C747.4 255.5 748.4 256.4 749.7 256.9C751.0 257.4 752.1 258.3 753.6 258.2C755.1 258.1 756.8 256.5 758.6 256.1C760.4 255.7 762.9 256.1 764.6 255.9C766.3 255.7 767.0 255.0 768.6 254.7C770.2 254.4 772.7 254.2 774.5 254.1C776.3 254.0 778.0 254.1 779.5 253.9C781.0 253.7 782.2 252.8 783.5 253.1C784.8 253.4 786.4 255.5 787.5 255.9C788.6 256.3 789.5 255.4 790.4 255.4C791.3 255.4 791.6 256.3 792.9 256.0C794.1 255.7 795.8 254.1 797.9 253.4C800.0 252.8 803.8 252.3 805.8 252.1C807.8 251.9 808.3 252.2 809.8 252.4C811.3 252.7 813.0 253.8 814.8 253.6C816.6 253.4 819.0 251.3 820.8 251.1C822.6 250.9 824.4 252.5 825.7 252.3C827.0 252.1 827.2 250.2 828.7 249.9C830.2 249.6 833.0 250.7 834.7 250.4C836.4 250.2 837.5 248.5 839.1 248.4C840.8 248.3 842.7 249.9 844.6 249.8C846.5 249.7 848.0 248.2 850.6 247.9C853.2 247.6 858.4 247.9 860.0 247.9" fill="none" stroke="#8585ff" stroke-width="1.35" stroke-linejoin="round" stroke-linecap="round"/>
<path d="M531.6 77.4C532.3 77.4 534.6 77.4 536.0 77.2C537.4 77.0 538.5 76.7 540.0 76.3C541.5 75.9 543.5 75.2 545.0 74.8C546.5 74.4 547.8 74.0 549.0 73.8C550.2 73.6 550.8 73.5 552.0 73.5C553.2 73.5 554.7 73.7 556.0 74.0C557.3 74.3 558.7 74.9 560.0 75.5C561.3 76.1 562.7 77.0 564.0 77.8C565.3 78.6 566.7 79.4 568.0 80.3C569.3 81.2 570.5 82.2 572.0 83.2C573.5 84.2 575.3 85.1 577.0 86.2C578.7 87.3 580.2 88.5 582.2 90.0C584.2 91.5 586.5 93.3 589.0 95.0C591.5 96.7 594.7 98.3 596.9 100.0C599.1 101.7 600.2 103.3 602.0 105.0C603.8 106.7 605.9 108.3 607.5 110.0C609.1 111.7 610.4 113.3 611.8 115.0C613.2 116.7 614.6 118.3 615.9 120.0C617.2 121.7 618.5 123.3 619.8 125.0C621.1 126.7 622.4 128.3 623.6 130.0C624.8 131.7 625.9 133.3 627.0 135.0C628.1 136.7 628.9 138.3 630.1 140.0C631.3 141.7 632.8 143.2 634.0 144.9C635.2 146.6 636.5 148.4 637.5 150.0C638.5 151.6 639.1 152.8 639.8 154.5C640.5 156.2 641.2 158.5 641.8 160.0C642.4 161.5 642.9 162.4 643.5 163.5C644.1 164.6 644.8 165.3 645.7 166.4C646.6 167.5 647.5 168.4 648.8 170.0C650.1 171.6 652.0 174.7 653.5 176.0C655.0 177.3 656.2 176.9 657.5 178.0C658.8 179.1 659.9 180.2 661.5 182.5C663.1 184.8 665.1 189.3 666.9 191.5C668.7 193.7 670.7 194.7 672.3 195.9C673.9 197.1 674.9 196.9 676.3 198.6C677.6 200.3 678.6 203.9 680.4 206.0C682.2 208.1 684.9 210.2 687.1 211.4C689.3 212.6 692.5 212.9 693.8 213.4C695.1 213.9 694.1 213.7 695.0 214.4C695.9 215.2 697.5 217.1 699.0 217.9C700.5 218.7 702.5 218.4 704.0 219.4C705.5 220.4 706.6 222.6 707.9 223.7C709.2 224.8 710.4 225.4 711.9 225.9C713.4 226.4 715.4 226.0 716.9 226.4C718.4 226.8 719.5 227.9 720.8 228.3C722.1 228.7 723.5 228.8 724.8 228.9C726.1 229.0 727.5 228.5 728.8 228.7C730.1 228.9 731.1 229.4 732.8 229.9C734.4 230.4 736.7 231.3 738.7 231.6C740.7 231.9 743.0 231.5 744.7 231.8C746.4 232.1 747.1 233.3 748.7 233.6C750.4 233.9 752.8 233.6 754.6 233.6C756.4 233.6 757.8 233.4 759.6 233.6C761.4 233.8 763.8 234.6 765.6 234.5C767.4 234.4 768.7 233.7 770.5 233.3C772.3 232.9 774.8 232.3 776.5 232.3C778.2 232.3 779.1 232.8 780.5 233.1C781.9 233.4 783.3 233.9 785.0 233.9C786.7 233.9 789.1 234.0 790.9 233.3C792.7 232.6 794.2 229.8 795.9 229.5C797.6 229.2 799.1 231.5 800.9 231.7C802.7 231.9 805.1 230.6 806.8 230.6C808.4 230.6 809.5 231.7 810.8 231.5C812.0 231.3 813.1 229.7 814.3 229.4C815.5 229.1 816.6 229.9 817.8 229.8C819.0 229.7 820.1 229.2 821.7 229.0C823.4 228.8 825.7 228.7 827.7 228.6C829.7 228.5 831.7 228.4 833.7 228.3C835.7 228.2 838.1 228.2 839.6 228.0C841.1 227.8 841.5 227.3 842.6 227.0C843.7 226.7 844.9 226.3 846.1 226.4C847.3 226.5 849.0 227.2 849.6 227.3" fill="none" stroke="#aeaeff" stroke-width="1.40" stroke-linejoin="round" stroke-linecap="round"/>
<path d="M531.6 77.4C532.2 77.2 533.6 76.8 535.0 76.5C536.4 76.2 538.3 75.7 540.0 75.3C541.7 74.9 543.5 74.6 545.0 74.3C546.5 74.0 547.8 73.8 549.0 73.7C550.2 73.6 550.8 73.4 552.0 73.5C553.2 73.6 554.7 73.8 556.0 74.1C557.3 74.4 558.7 75.0 560.0 75.6C561.3 76.2 562.7 77.1 564.0 77.8C565.3 78.5 566.4 79.3 567.7 80.0C569.1 80.7 570.7 81.3 572.1 82.0C573.5 82.7 574.7 83.3 576.0 84.0C577.3 84.7 578.7 85.3 579.9 86.0C581.1 86.7 582.2 87.3 583.4 88.0C584.6 88.7 585.1 88.8 586.9 90.0C588.7 91.2 591.6 93.3 594.0 95.0C596.4 96.7 599.1 98.3 601.2 100.0C603.3 101.7 604.7 103.3 606.5 105.0C608.3 106.7 610.2 108.3 611.9 110.0C613.6 111.7 615.0 113.3 616.5 115.0C618.0 116.7 619.8 118.3 621.2 120.0C622.6 121.7 623.7 123.3 625.0 125.0C626.3 126.7 627.6 128.3 628.9 130.0C630.2 131.7 631.5 133.3 632.8 135.0C634.1 136.7 635.4 138.3 636.7 140.0C638.0 141.7 639.4 143.3 640.7 145.0C642.0 146.7 643.5 148.3 644.7 150.0C645.9 151.7 646.9 153.3 648.0 155.0C649.1 156.7 650.2 158.3 651.5 160.0C652.8 161.7 654.4 163.3 656.0 165.0C657.6 166.7 659.2 168.0 661.2 170.0C663.2 172.0 666.0 174.6 668.3 177.1C670.6 179.6 673.0 183.1 675.0 185.2C677.0 187.3 678.6 188.6 680.4 189.9C682.2 191.2 683.9 192.1 685.7 193.3C687.5 194.5 689.2 195.4 691.1 197.3C693.0 199.2 695.4 203.6 697.0 205.0C698.6 206.4 699.7 205.6 701.0 206.0C702.3 206.4 703.4 206.4 704.9 207.5C706.4 208.6 708.2 211.2 709.9 212.3C711.6 213.4 713.2 213.2 714.9 213.9C716.6 214.7 718.2 216.1 719.9 216.8C721.5 217.5 723.1 217.6 724.8 217.9C726.4 218.2 728.1 218.4 729.8 218.7C731.5 219.0 733.0 219.6 734.8 219.9C736.6 220.2 739.1 220.6 740.7 220.6C742.4 220.6 743.2 220.2 744.7 219.9C746.2 219.6 747.5 219.0 749.5 219.0C751.5 219.0 754.2 219.9 756.6 220.1C759.0 220.3 761.6 219.8 763.6 220.1C765.6 220.3 767.0 221.6 768.6 221.6C770.2 221.6 771.9 220.4 773.5 219.9C775.1 219.4 776.8 218.9 778.5 218.7C780.2 218.5 782.5 218.8 784.0 218.7C785.5 218.5 786.4 217.8 787.5 217.8C788.6 217.8 789.6 218.9 790.9 218.6C792.2 218.3 793.7 216.4 795.4 216.2C797.1 216.0 799.2 217.4 800.9 217.3C802.6 217.2 804.0 216.1 805.8 215.9C807.6 215.7 810.1 216.0 811.8 216.1C813.5 216.2 814.5 216.6 815.8 216.6C817.1 216.6 818.3 216.8 819.8 216.3C821.3 215.9 822.9 214.6 824.7 213.9C826.5 213.2 828.7 212.7 830.7 212.1C832.7 211.5 835.1 210.8 836.7 210.4C838.4 210.0 839.1 210.3 840.6 209.8C842.1 209.3 844.1 207.8 845.6 207.3C847.1 206.8 848.9 207.1 849.6 207.0" fill="none" stroke="#ffb4b4" stroke-width="1.40" stroke-linejoin="round" stroke-linecap="round"/>
<path d="M531.6 77.3C532.2 77.1 533.6 76.7 535.0 76.3C536.4 75.9 538.3 75.3 540.0 74.9C541.7 74.5 543.5 74.0 545.0 73.7C546.5 73.4 547.8 73.2 549.0 73.1C550.2 72.9 550.8 72.8 552.0 72.8C553.2 72.8 554.7 73.1 556.0 73.4C557.3 73.7 558.7 74.2 560.0 74.8C561.3 75.4 562.7 76.1 564.0 76.8C565.3 77.5 566.8 78.4 568.0 79.0C569.2 79.6 570.3 80.0 571.5 80.5C572.7 81.0 574.0 81.4 575.4 82.0C576.8 82.6 578.2 83.3 579.6 84.0C581.0 84.7 582.4 85.3 583.8 86.0C585.1 86.7 586.4 87.3 587.7 88.0C589.0 88.7 589.7 88.8 591.5 90.0C593.3 91.2 596.0 93.3 598.3 95.0C600.6 96.7 602.9 98.3 605.1 100.0C607.3 101.7 609.2 103.3 611.3 105.0C613.4 106.7 615.3 108.3 617.5 110.0C619.7 111.7 622.0 113.3 624.3 115.0C626.6 116.7 629.3 118.3 631.2 120.0C633.1 121.7 634.1 123.3 635.5 125.0C636.9 126.7 638.3 128.3 639.8 130.0C641.3 131.7 643.0 133.3 644.5 135.0C646.0 136.7 647.5 138.3 649.1 140.0C650.7 141.7 652.4 143.3 654.1 145.0C655.8 146.7 657.4 148.3 659.1 150.0C660.8 151.7 662.4 153.3 664.1 155.0C665.8 156.7 667.5 158.3 669.2 160.0C670.9 161.7 672.7 163.3 674.5 165.0C676.3 166.7 678.0 168.5 679.8 170.0C681.5 171.5 683.3 172.8 685.0 173.8C686.7 174.9 688.3 175.3 690.0 176.3C691.7 177.3 693.6 178.6 695.4 179.7C697.2 180.8 699.0 181.9 700.8 183.0C702.6 184.1 704.3 185.3 706.1 186.4C707.9 187.5 709.7 188.8 711.5 189.8C713.3 190.8 715.1 191.8 716.9 192.5C718.7 193.2 720.5 193.4 722.3 193.8C724.1 194.2 725.9 194.8 727.7 195.2C729.5 195.6 731.3 196.1 733.1 196.5C734.9 196.9 736.6 197.5 738.4 197.9C740.2 198.3 741.6 198.7 743.8 199.2C746.0 199.7 749.2 200.5 751.7 200.9C754.2 201.3 756.5 201.5 758.5 201.8C760.5 202.1 761.6 203.0 763.8 202.7C766.0 202.4 769.6 200.3 771.9 200.0C774.1 199.7 775.5 201.4 777.3 201.1C779.1 200.8 780.7 198.9 782.7 198.4C784.7 197.9 787.2 198.1 789.4 197.8C791.6 197.5 793.5 196.9 796.1 196.4C798.7 195.9 802.0 195.4 805.0 195.0C808.0 194.6 811.0 194.7 814.0 194.1C817.0 193.5 820.0 192.2 823.0 191.4C826.0 190.7 829.0 190.5 832.0 189.6C835.0 188.7 837.9 186.9 840.9 186.0C843.9 185.1 848.4 184.2 849.9 183.9" fill="none" stroke="#ff7a7a" stroke-width="1.40" stroke-linejoin="round" stroke-linecap="round"/>
<path d="M531.6 77.3C532.2 77.1 533.6 76.6 535.0 76.1C536.4 75.6 538.3 75.0 540.0 74.5C541.7 74.0 543.5 73.5 545.0 73.2C546.5 72.9 547.8 72.7 549.0 72.5C550.2 72.3 550.8 72.2 552.0 72.2C553.2 72.2 554.7 72.5 556.0 72.8C557.3 73.1 558.7 73.6 560.0 74.1C561.3 74.6 562.7 75.3 564.0 76.0C565.3 76.7 566.7 77.5 568.0 78.2C569.3 78.9 570.8 79.5 572.0 80.0C573.2 80.5 574.3 80.9 575.4 81.2C576.5 81.5 577.5 81.5 578.8 82.0C580.1 82.5 581.6 83.3 583.0 84.0C584.4 84.7 585.7 85.3 587.1 86.0C588.5 86.7 589.9 87.3 591.3 88.0C592.7 88.7 593.7 88.8 595.5 90.0C597.3 91.2 599.8 93.3 602.0 95.0C604.2 96.7 606.3 98.3 608.5 100.0C610.7 101.7 613.0 103.3 615.3 105.0C617.6 106.7 619.9 108.3 622.1 110.0C624.3 111.7 626.4 113.3 628.6 115.0C630.8 116.7 633.0 118.3 635.1 120.0C637.2 121.7 639.0 123.3 641.0 125.0C643.0 126.7 644.8 128.3 646.8 130.0C648.8 131.7 650.8 133.3 652.8 135.0C654.8 136.7 657.0 138.3 658.7 140.0C660.4 141.7 661.7 143.3 663.2 145.0C664.7 146.7 666.1 148.3 667.6 150.0C669.1 151.7 670.7 153.3 672.2 155.0C673.7 156.7 675.2 158.3 676.7 160.0C678.2 161.7 680.1 163.8 681.5 165.0C682.9 166.2 683.5 166.6 685.0 167.5C686.5 168.4 690.0 169.8 690.8 170.3C691.6 170.8 689.2 170.2 690.0 170.5C690.8 170.8 693.8 171.3 695.4 172.3C697.0 173.3 698.0 175.4 699.4 176.3C700.8 177.2 701.9 177.2 703.5 177.7C705.1 178.1 707.2 178.3 708.8 179.0C710.4 179.7 711.8 180.7 712.9 181.7C714.0 182.7 714.3 184.3 715.6 185.1C716.9 185.9 719.1 185.6 720.9 186.4C722.7 187.2 724.7 188.9 726.3 189.8C727.9 190.7 728.8 191.5 730.4 191.8C732.0 192.1 733.9 191.6 735.7 191.8C737.5 192.0 739.3 192.8 741.1 193.1C742.9 193.4 744.7 193.8 746.5 193.8C748.3 193.8 749.7 193.7 751.7 193.1C753.7 192.5 756.7 190.5 758.5 190.4C760.3 190.3 761.2 191.5 762.5 192.4C763.8 193.3 765.1 195.7 766.5 195.7C767.9 195.7 769.0 193.1 770.6 192.4C772.2 191.7 774.3 191.8 775.9 191.7C777.5 191.6 778.4 191.7 780.0 191.7C781.6 191.7 783.6 192.0 785.4 191.7C787.2 191.4 788.9 190.4 790.7 189.7C792.5 189.0 794.3 188.1 796.1 187.7C797.9 187.2 800.0 187.1 801.5 187.0C803.0 186.9 803.2 187.4 805.0 186.9C806.8 186.4 809.8 184.6 812.2 184.2C814.6 183.8 817.0 184.6 819.4 184.2C821.8 183.8 824.2 182.6 826.6 181.6C829.0 180.6 831.3 179.2 833.7 178.0C836.1 176.8 838.8 175.3 840.9 174.4C843.0 173.5 844.8 173.3 846.3 172.6C847.8 171.8 849.3 170.3 849.9 169.9" fill="none" stroke="#ff5a5a" stroke-width="1.40" stroke-linejoin="round" stroke-linecap="round"/>
<path d="M531.6 77.2C532.2 77.0 533.6 76.4 535.0 75.9C536.4 75.4 538.3 74.6 540.0 74.1C541.7 73.6 543.5 73.1 545.0 72.7C546.5 72.3 547.8 72.1 549.0 71.9C550.2 71.7 550.8 71.6 552.0 71.6C553.2 71.6 554.7 71.8 556.0 72.1C557.3 72.4 558.7 72.9 560.0 73.4C561.3 73.9 562.7 74.6 564.0 75.2C565.3 75.8 566.7 76.6 568.0 77.2C569.3 77.8 570.5 78.3 572.0 78.9C573.5 79.5 575.3 80.1 577.0 80.6C578.7 81.1 580.6 81.4 582.1 82.0C583.6 82.6 584.9 83.3 586.3 84.0C587.7 84.7 589.0 85.3 590.4 86.0C591.8 86.7 593.2 87.3 594.6 88.0C596.0 88.7 597.0 88.8 598.8 90.0C600.6 91.2 603.3 93.3 605.6 95.0C607.9 96.7 610.7 98.9 612.4 100.0C614.1 101.1 614.3 100.6 615.8 101.5C617.2 102.4 619.3 104.3 621.1 105.5C622.9 106.7 624.7 107.4 626.5 108.5C628.3 109.6 630.1 110.7 631.9 112.0C633.7 113.3 635.9 115.4 637.3 116.5C638.6 117.6 638.6 117.6 640.0 118.5C641.4 119.4 643.6 120.6 645.4 122.1C647.2 123.6 649.0 125.6 650.8 127.5C652.6 129.4 654.3 131.9 656.1 133.5C657.9 135.1 659.7 135.4 661.5 136.9C663.3 138.4 665.1 140.5 666.9 142.3C668.7 144.1 670.5 146.6 672.3 147.7C674.1 148.8 676.1 148.1 677.7 149.0C679.3 149.9 680.4 151.2 681.7 153.0C683.0 154.8 684.1 158.0 685.7 159.8C687.3 161.6 689.5 163.0 691.1 163.8C692.7 164.6 694.0 164.3 695.4 164.6C696.8 164.9 698.0 165.1 699.4 165.6C700.8 166.1 702.1 166.7 703.5 167.6C704.9 168.5 706.4 169.9 707.5 170.9C708.6 171.9 709.3 173.2 710.2 173.6C711.1 174.0 711.8 173.0 712.9 173.6C714.0 174.2 715.3 176.6 716.9 177.0C718.5 177.4 720.7 175.9 722.3 176.3C723.9 176.8 724.9 179.2 726.3 179.7C727.6 180.1 728.8 178.8 730.4 179.0C732.0 179.2 733.8 181.5 735.7 181.0C737.6 180.5 740.2 176.3 741.8 176.1C743.4 175.9 744.2 178.6 745.2 179.7C746.2 180.8 746.7 182.3 747.8 182.4C748.9 182.5 750.4 181.1 751.7 180.3C753.0 179.5 754.9 177.8 755.8 177.6C756.7 177.4 756.6 179.2 757.1 178.9C757.6 178.6 757.1 176.2 758.5 175.6C759.9 175.0 763.0 175.3 765.2 175.3C767.4 175.3 769.7 175.4 771.9 175.6C774.1 175.8 776.6 176.3 778.6 176.2C780.6 176.1 782.4 175.7 784.0 174.9C785.6 174.1 786.6 172.5 788.0 171.5C789.4 170.5 790.8 169.5 792.1 168.8C793.5 168.1 794.5 167.9 796.1 167.5C797.7 167.1 800.0 166.5 801.5 166.1C803.0 165.7 803.5 165.8 805.0 164.8C806.5 163.8 808.9 161.4 810.8 160.0C812.6 158.6 814.3 158.2 816.1 156.5C817.9 154.8 819.9 151.2 821.5 149.8C823.1 148.5 824.5 149.1 825.6 148.4C826.7 147.7 827.4 146.2 828.3 145.7C829.2 145.1 830.0 146.1 830.9 145.1C831.8 144.1 832.7 140.9 833.6 139.7C834.5 138.5 835.4 138.7 836.3 137.7C837.2 136.7 838.2 134.2 839.0 133.6C839.8 133.0 840.2 135.1 841.0 134.3C841.8 133.5 842.8 130.4 843.7 128.9C844.6 127.5 845.4 126.7 846.4 125.6C847.4 124.5 849.2 122.8 849.8 122.2" fill="none" stroke="#ff2e2e" stroke-width="1.45" stroke-linejoin="round" stroke-linecap="round"/>
<path d="M531.6 77.2C532.2 76.9 533.6 76.2 535.0 75.6C536.4 75.0 538.3 74.3 540.0 73.7C541.7 73.1 543.5 72.6 545.0 72.2C546.5 71.8 547.8 71.5 549.0 71.3C550.2 71.1 550.8 71.0 552.0 71.0C553.2 71.0 554.7 71.1 556.0 71.4C557.3 71.7 558.7 72.1 560.0 72.6C561.3 73.1 562.7 73.7 564.0 74.3C565.3 74.9 566.7 75.6 568.0 76.2C569.3 76.8 570.7 77.4 572.0 77.9C573.3 78.4 574.6 78.7 576.0 79.1C577.4 79.5 578.9 79.6 580.4 80.1C581.9 80.6 583.5 81.3 585.1 82.0C586.7 82.7 588.2 83.3 589.7 84.0C591.2 84.7 592.7 85.3 594.3 86.0C595.9 86.7 597.8 87.3 599.5 88.0C601.2 88.7 602.7 88.8 604.8 90.0C606.9 91.2 609.8 93.5 612.0 95.0C614.2 96.5 615.6 97.5 618.0 99.0C620.4 100.5 623.7 102.7 626.5 104.0C629.3 105.3 632.4 105.9 634.6 107.0C636.9 108.1 638.2 109.2 640.0 110.8C641.8 112.4 643.6 114.7 645.4 116.5C647.2 118.3 649.0 120.5 650.8 121.8C652.6 123.1 654.3 123.6 656.1 124.1C657.9 124.6 659.7 124.2 661.5 124.8C663.3 125.4 665.3 125.9 666.9 127.5C668.5 129.1 669.5 132.1 670.9 134.2C672.2 136.3 673.6 138.7 675.0 140.3C676.4 141.9 677.4 142.9 679.0 143.6C680.6 144.3 682.6 144.3 684.4 144.7C686.2 145.0 688.0 145.1 689.8 145.7C691.6 146.3 693.6 147.4 695.2 148.3C696.8 149.2 698.0 150.2 699.4 151.4C700.8 152.6 702.1 154.5 703.5 155.5C704.9 156.5 705.9 156.9 707.5 157.5C709.1 158.1 711.3 158.2 712.9 158.8C714.5 159.4 715.6 160.0 716.9 160.9C718.2 161.8 719.5 163.1 720.9 164.2C722.2 165.3 723.4 166.6 725.0 167.6C726.6 168.6 728.6 169.7 730.4 170.3C732.2 170.9 733.9 171.2 735.7 171.2C737.5 171.2 739.3 170.7 741.1 170.3C742.9 169.9 744.7 169.2 746.5 168.9C748.3 168.7 749.7 168.9 751.7 168.8C753.7 168.7 755.7 168.4 758.5 168.2C761.3 168.0 765.8 167.2 768.5 167.5C771.2 167.8 772.7 169.7 774.6 169.9C776.5 170.1 778.2 169.4 780.0 168.8C781.8 168.2 783.6 167.0 785.4 166.1C787.2 165.2 788.9 164.6 790.7 163.5C792.5 162.4 794.3 160.6 796.1 159.4C797.9 158.2 799.7 157.4 801.5 156.1C803.3 154.8 804.7 153.4 806.7 151.8C808.7 150.2 811.2 148.4 813.5 146.4C815.8 144.4 818.0 142.0 820.2 139.7C822.4 137.3 824.7 134.8 826.9 132.3C829.1 129.8 831.4 127.4 833.6 124.9C835.9 122.4 838.4 119.5 840.4 117.5C842.4 115.5 844.1 114.2 845.7 112.8C847.3 111.4 849.3 109.7 850.0 109.1" fill="none" stroke="#ff0000" stroke-width="1.45" stroke-linejoin="round" stroke-linecap="round"/>
<path d="M696.3 371.5C696.3 370.6 695.8 373.9 696.1 366.0C696.4 358.1 697.1 336.4 698.3 324.0C699.5 311.6 699.6 303.1 703.4 291.4C707.1 279.6 715.0 263.5 720.8 253.5C726.6 243.5 733.6 237.1 738.3 231.3C743.0 225.5 747.3 220.7 749.1 218.6" stroke="#7b7bf5" stroke-width="1.5" fill="none"/>
<path d="M749.1 218.6C751.6 216.0 758.8 207.2 763.9 202.8C769.0 198.4 776.2 194.7 779.7 192.1C783.2 189.5 784.1 188.0 785.0 187.2" stroke="#7b7bf5" stroke-width="1.5" fill="none" stroke-dasharray="6.5 22.5 6.6 8.9 6.5 20"/>
<rect x="692.1" y="362.0" width="8" height="8" fill="#7b7bf5"/>
<rect x="694.3" y="320.0" width="8" height="8" fill="#7b7bf5"/>
<rect x="699.4" y="287.4" width="8" height="8" fill="#7b7bf5"/>
<rect x="716.8" y="249.5" width="8" height="8" fill="#7b7bf5"/>
<rect x="734.3" y="227.3" width="8" height="8" fill="#7b7bf5"/>
<rect x="745.1" y="214.6" width="8" height="8" fill="#7b7bf5"/>
<rect x="759.9" y="198.8" width="8" height="8" fill="#7b7bf5"/>
<rect x="775.7" y="188.1" width="8" height="8" fill="#7b7bf5"/>
<rect x="531.6" y="33.9" width="333.7" height="347.7" fill="none" stroke="#1a1a1a" stroke-width="1.3"/>
<path d="M531.6 381.6v-5M531.6 33.9v5M634.1 381.6v-5M634.1 33.9v5M736.6 381.6v-5M736.6 33.9v5M839.1 381.6v-5M839.1 33.9v5M582.9 381.6v-3M582.9 33.9v3M685.4 381.6v-3M685.4 33.9v3M787.9 381.6v-3M787.9 33.9v3M531.6 77.0h5M865.3 77.0h-5M531.6 164.1h5M865.3 164.1h-5M531.6 251.2h5M865.3 251.2h-5M531.6 338.3h5M865.3 338.3h-5M531.6 33.4h3M865.3 33.4h-3M531.6 120.6h3M865.3 120.6h-3M531.6 207.7h3M865.3 207.7h-3M531.6 294.8h3M865.3 294.8h-3M531.6 381.9h3M865.3 381.9h-3" stroke="#1a1a1a" stroke-width="1.1" fill="none"/>
<text x="98.0" y="386.2" font-size="18.5" text-anchor="end" font-family='"Liberation Sans", sans-serif' fill="#000" >0</text>
<text x="98.0" y="299.2" font-size="18.5" text-anchor="end" font-family='"Liberation Sans", sans-serif' fill="#000" >50</text>
<text x="98.0" y="212.2" font-size="18.5" text-anchor="end" font-family='"Liberation Sans", sans-serif' fill="#000" >100</text>
<text x="98.0" y="125.3" font-size="18.5" text-anchor="end" font-family='"Liberation Sans", sans-serif' fill="#000" >150</text>
<text x="98.0" y="38.3" font-size="18.5" text-anchor="end" font-family='"Liberation Sans", sans-serif' fill="#000" >200</text>
<text x="104.0" y="400.6" font-size="18.5" text-anchor="middle" font-family='"Liberation Sans", sans-serif' fill="#000" >0</text>
<text x="206.8" y="400.6" font-size="18.5" text-anchor="middle" font-family='"Liberation Sans", sans-serif' fill="#000" >10</text>
<text x="309.7" y="400.6" font-size="18.5" text-anchor="middle" font-family='"Liberation Sans", sans-serif' fill="#000" >20</text>
<text x="412.6" y="400.6" font-size="18.5" text-anchor="middle" font-family='"Liberation Sans", sans-serif' fill="#000" >30</text>
<text x="524.5" y="82.9" font-size="18.5" text-anchor="end" font-family='"Liberation Sans", sans-serif' fill="#000" >0</text>
<text x="524.5" y="170.0" font-size="18.5" text-anchor="end" font-family='"Liberation Sans", sans-serif' fill="#000" >−10</text>
<text x="524.5" y="257.1" font-size="18.5" text-anchor="end" font-family='"Liberation Sans", sans-serif' fill="#000" >−20</text>
<text x="524.5" y="344.2" font-size="18.5" text-anchor="end" font-family='"Liberation Sans", sans-serif' fill="#000" >−30</text>
<text x="531.6" y="401.9" font-size="18.5" text-anchor="middle" font-family='"Liberation Sans", sans-serif' fill="#000" >0</text>
<text x="634.1" y="401.9" font-size="18.5" text-anchor="middle" font-family='"Liberation Sans", sans-serif' fill="#000" >10</text>
<text x="736.6" y="401.9" font-size="18.5" text-anchor="middle" font-family='"Liberation Sans", sans-serif' fill="#000" >20</text>
<text x="839.1" y="401.9" font-size="18.5" text-anchor="middle" font-family='"Liberation Sans", sans-serif' fill="#000" >30</text>
<text x="112.0" y="57.3" font-size="22.5" text-anchor="start" font-family='"Liberation Sans", sans-serif' fill="#000" >S2</text>
<text x="537.8" y="58.5" font-size="22.5" text-anchor="start" font-family='"Liberation Sans", sans-serif' fill="#000" >S2</text>
<text x="271.4" y="429.1" font-size="18.5" text-anchor="middle" font-family='"Liberation Sans", sans-serif' fill="#000" ><tspan font-style="italic">B</tspan> (T)</text>
<text x="698.7" y="430.9" font-size="18.5" text-anchor="middle" font-family='"Liberation Sans", sans-serif' fill="#000" ><tspan font-style="italic">B</tspan> (T)</text>
<text transform="translate(51.0 202.4) rotate(-90)" font-size="18" text-anchor="middle" font-family='"Liberation Sans", sans-serif' fill="#000">-S<tspan font-size="13" font-style="italic" dy="4">xx</tspan><tspan dy="-4"> (μV/K)</tspan></text>
<text transform="translate(478.0 201.8) rotate(-90)" font-size="18" text-anchor="middle" font-family='"Liberation Sans", sans-serif' fill="#000">S<tspan font-size="13" font-style="italic" dy="4">xy</tspan><tspan dy="-4" dx="1.6">/T (μV/K</tspan><tspan font-size="13" dy="-7">2</tspan><tspan dy="7">)</tspan></text>
<text x="134.2" y="297.7" font-size="18.5" text-anchor="start" font-family='"Liberation Sans", sans-serif' fill="#000" >B<tspan font-size="13.5" dy="5.5">1</tspan></text>
<text x="296.6" y="205.8" font-size="18.5" text-anchor="start" font-family='"Liberation Sans", sans-serif' fill="#000" >B<tspan font-size="13.5" dy="5">2</tspan></text>
<text x="543.3" y="123.5" font-size="18.5" text-anchor="start" font-family='"Liberation Sans", sans-serif' fill="#000" >B<tspan font-size="13.5" dy="6">1</tspan></text>
<text x="653.2" y="372.0" font-size="18.5" text-anchor="start" font-family='"Liberation Sans", sans-serif' fill="#000" >B<tspan font-size="13.5" dy="4.5">3</tspan></text>
<path d="M143.5 307.9L144.6 330.1" stroke="#111" stroke-width="1.1"/>
<path d="M144.9 336.6L143.1 330.2L146.1 330.0Z" fill="#111"/>
<path d="M550.9 104.0L559.7 88.1" stroke="#111" stroke-width="1.1"/>
<path d="M562.9 82.4L561.1 88.8L558.4 87.4Z" fill="#111"/>
</svg>
</body></html>
